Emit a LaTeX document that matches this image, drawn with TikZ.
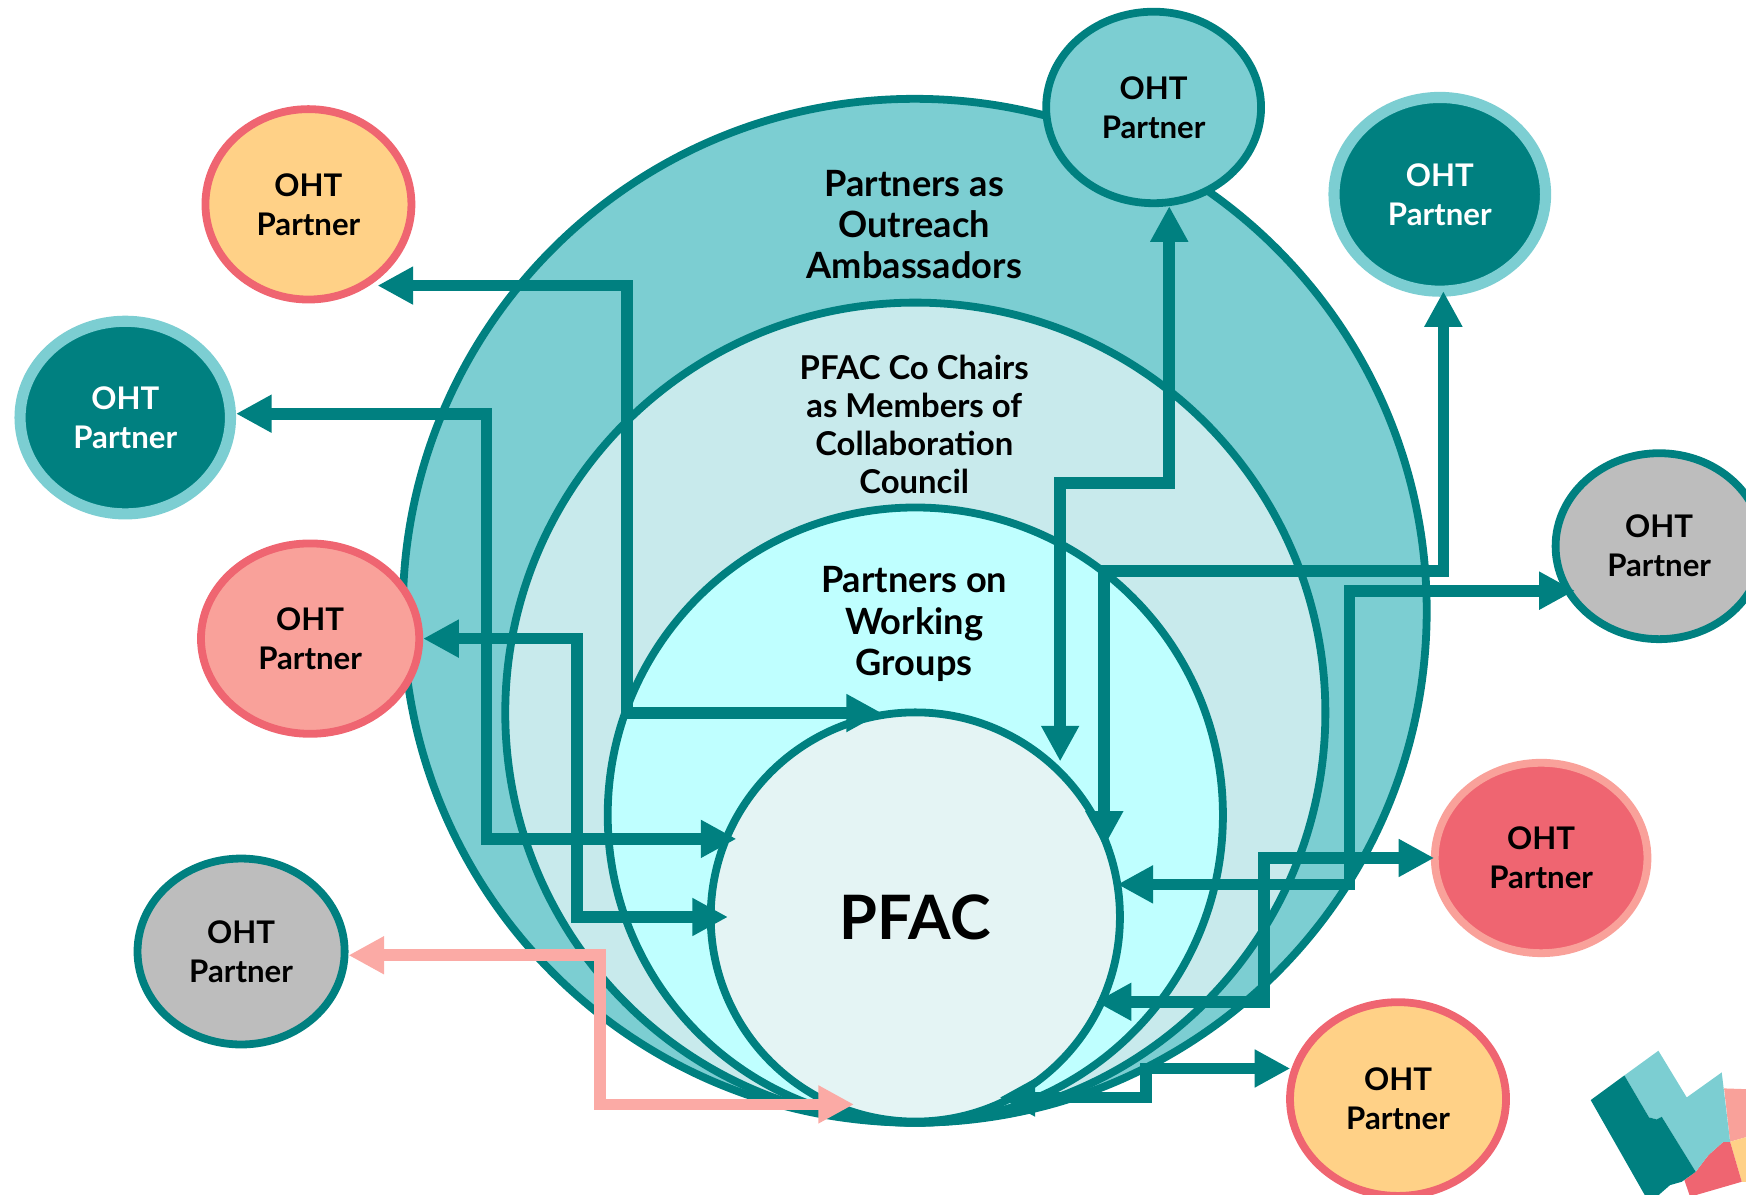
\documentclass[tikz,border=0pt]{standalone}
\usepackage{fontspec}
\setmainfont{Lato}
\usetikzlibrary{arrows.meta}
\usetikzlibrary{shapes.geometric}

\definecolor{tealdark}{HTML}{008080}
\definecolor{teallight}{HTML}{7CCED2}
\definecolor{tealpale}{HTML}{C8EAEC}
\definecolor{aqua}{HTML}{BFFFFF}
\definecolor{mist}{HTML}{E4F4F4}
\definecolor{rose}{HTML}{EF6571}
\definecolor{salmon}{HTML}{F9A19A}
\definecolor{sand}{HTML}{FFD187}
\definecolor{stone}{HTML}{BDBDBD}
\definecolor{blush}{HTML}{FBAAA5}

\tikzset{
  ring/.style={circle, draw=tealdark, line width=7pt, inner sep=0pt},
  partner/.style={ellipse, inner sep=0pt, align=center, line width=7pt, font=\fontsize{28}{35}\selectfont\bfseries},
  tier/.style={align=center, font=\fontsize{32.5}{37}\selectfont\bfseries},
  link/.style={draw=tealdark, line width=10.5pt, {Triangle[length=32pt,width=32pt]}-{Triangle[length=32pt,width=32pt]}},
}

\begin{document}
\begin{tikzpicture}[x=1pt, y=-1pt]
    \useasboundingbox (0,0) rectangle (1568,1073);

    \node[ring, fill=teallight, minimum size=919.5pt] (outreach) at (821.5,548.5) {};
    \node[ring, fill=tealpale, minimum size=736.5pt] (council) at (822,640) {};
    \node[ring, fill=aqua, minimum size=552.5pt] (groups) at (822,732) {};
    \node[ring, fill=mist, minimum size=367.5pt, font=\fontsize{55}{60}\selectfont\bfseries] (pfac) at (822,823.5) {PFAC};

    \node[tier] (outreachlabel) at (821,201.5) {Partners as\\Outreach\\Ambassadors};
    \node[tier, font=\fontsize{29.5}{34}\selectfont\bfseries] (councillabel) at (821,381) {PFAC Co Chairs\\as Members of\\Collaboration\\Council};
    \node[tier] (groupslabel) at (821,560.5) {Partners on\\Working\\Groups};

    \node[partner, draw=rose, fill=sand, minimum width=185pt, minimum height=171pt] (topleft) at (277,183.5) {OHT\\Partner};
    \node[partner, draw=teallight, fill=tealdark, text=white, line width=10pt, minimum width=189pt, minimum height=173pt] (farleft) at (112.5,375) {OHT\\Partner};
    \node[partner, draw=rose, fill=salmon, minimum width=196pt, minimum height=171pt] (midleft) at (278.5,573.5) {OHT\\Partner};
    \node[partner, draw=tealdark, fill=stone, minimum width=186pt, minimum height=167pt] (lowleft) at (216.5,854.5) {OHT\\Partner};
    \node[partner, draw=tealdark, fill=teallight, minimum width=193pt, minimum height=172pt] (top) at (1036,96.5) {OHT\\Partner};
    \node[partner, draw=teallight, fill=tealdark, text=white, line width=10pt, minimum width=190pt, minimum height=174pt] (topright) at (1293,174.5) {OHT\\Partner};
    \node[partner, draw=tealdark, fill=stone, minimum width=186pt, minimum height=167pt] (farright) at (1490,490.5) {OHT\\Partner};
    \node[partner, draw=salmon, fill=rose, minimum width=191pt, minimum height=171pt] (midright) at (1384,770.5) {OHT\\Partner};
    \node[partner, draw=rose, fill=sand, minimum width=194pt, minimum height=174pt] (lowright) at (1255.5,987) {OHT\\Partner};

    \draw[link, shorten <=7pt, shorten >=-9pt] (topleft.-53) -| (563,450) |- (pfac.102.5);
    \draw[link, shorten >=-13pt] (farleft.2) -| (437,550) |- (pfac.158.6);
    \draw[link, shorten >=-19pt] (midleft.0) -| (518,700) |- (pfac.180);
    \draw[link, shorten >=5pt] (top.-81) |- (1000,434) -| (pfac.46.7);
    \draw[link, shorten <=-5pt, shorten >=-16pt] (topright.-88) |- (1100,513) -| (pfac.25.3);
    \draw[link, shorten <=-10pt, shorten >=-3.5pt] (farright.205) -| (1212,650) |- (pfac.9.3);
    \draw[link, shorten <=-3pt, shorten >=-9pt] (midright.180) -| (1135,830) |- (pfac.-24);
    \draw[link, shorten <=1pt, shorten >=-18pt] (lowright.164) -| (1029,970) |- (pfac.-60.4);
    \draw[link, draw=blush, shorten >=-27pt] (lowleft.-2) -| (539,920) |- (pfac.-116.3);

    \begin{scope}[shift={(1347.1,898.1)}, x=0.2994pt, y=-0.2994pt]
      \fill[salmon] (672,265) -- (760,268) -- (760,405) -- (690,425) -- cycle;
      \fill[sand] (690,425) -- (760,405) -- (760,545) -- (725,545) -- cycle;
      \fill[rose] (587,515) -- (625,465) -- (670,425) -- (690,425) -- (725,545) -- (570,590) -- (553,540) -- cycle;
      \fill[teallight] (373,226) -- (475,152) -- (560,292) -- (665,217) -- (690,425) -- (670,425) -- (625,465) -- (587,515) -- (485,350) -- (470,358) -- (447,352) -- cycle;
      \fill[tealdark] (272,300) -- (373,226) -- (447,352) -- (470,358) -- (485,350) -- (587,515) -- (545,545) -- (510,555) -- (470,590) -- (437,590) -- cycle;
    \end{scope}
\end{tikzpicture}
\end{document}
